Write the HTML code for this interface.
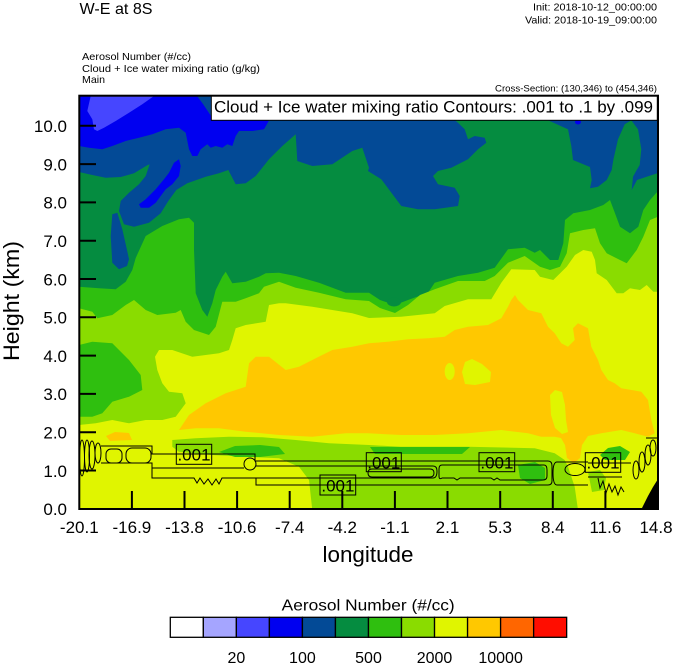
<!DOCTYPE html>
<html><head><meta charset="utf-8"><style>
html,body{margin:0;padding:0;background:#fff;}
svg{display:block;font-family:"Liberation Sans",Arial,sans-serif;}
</style></head><body>
<svg width="674" height="667" viewBox="0 0 674 667" xmlns="http://www.w3.org/2000/svg">
<defs><clipPath id="pc"><rect x="79.3" y="95.7" width="578.7" height="413.3"/></clipPath></defs>
<!-- header texts -->
<text x="79.5" y="14" font-size="16" textLength="73" lengthAdjust="spacingAndGlyphs">W-E at 8S</text>
<text x="533" y="10.5" font-size="10.5" textLength="124" lengthAdjust="spacingAndGlyphs">Init: 2018-10-12_00:00:00</text>
<text x="525" y="23.5" font-size="10.5" textLength="132" lengthAdjust="spacingAndGlyphs">Valid: 2018-10-19_09:00:00</text>
<text x="82" y="60" font-size="10.5" textLength="109" lengthAdjust="spacingAndGlyphs">Aerosol Number   (#/cc)</text>
<text x="82" y="72" font-size="10.5" textLength="178" lengthAdjust="spacingAndGlyphs">Cloud + Ice water mixing ratio   (g/kg)</text>
<text x="82" y="83" font-size="10.5" textLength="23" lengthAdjust="spacingAndGlyphs">Main</text>
<text x="495" y="91.5" font-size="9.5" textLength="162" lengthAdjust="spacingAndGlyphs">Cross-Section: (130,346) to (454,346)</text>

<g clip-path="url(#pc)">
<rect x="79" y="95" width="580" height="415" fill="#034a96"/>
<!-- blue top band -->
<path fill="#0000f0" d="M79,96 L197,96 L203,104 L209,113 L214,120.5 L269,120.5 L264,129.3 L252.3,131 L239,131 L235.7,136 L232.3,146 L227.3,144.3 L222.3,147.7 L215.7,146 L210.7,147.7 L207.3,144.3 L200.7,149.3 L197.3,156 L192.3,156 L189,149.3 L185.7,132.7 L179,127.7 L165.7,129.3 L152.3,134.3 L139,137.7 L125.7,141 L112.3,146 L102.3,149.3 L89,147.7 L79,146 Z"/>
<path fill="#4646ff" d="M90.7,96 L154,96 L142.3,104.3 L129,112.7 L115.7,121 L104,127.7 L97.3,131 L94,129.3 L92.3,119.3 L87.3,111 Z"/>
<ellipse cx="578" cy="122" rx="3" ry="2.5" fill="#0000f0"/>
<!-- green -->
<path fill="#058c40" d="M79,172 L92.3,175 L105.7,177.7 L120.7,177 L134,173.3 L147.3,165.3 L149.7,164.3 L145.7,176 L139,184.3 L129,192.7 L120.7,201 L119,211 L124,224.3 L134,226.7 L149,222.7 L160.7,213.3 L168.3,201 L176.3,190 L187.3,183.3 L205.7,176.7 L219,173.3 L228.3,170 L235.7,184.3 L245.7,183.3 L255.7,176 L269,159.3 L282.3,146 L295.7,134.3 L297.3,161 L312.3,166 L332.3,164.3 L352.3,151 L362.3,147.7 L369,167.7 L368,171 L381.3,179.3 L401.3,206 L418,209.3 L434.7,209.3 L458,206 L459.7,196 L454.7,187.7 L438,184.3 L433,176 L438,171 L451.3,167.7 L468,159.3 L478,149.3 L486.3,142.7 L484.7,137.7 L474.7,136 L468,139.3 L464.7,129.3 L458,122.7 L454.7,120 L454.7,96 L548,96 L548,120.3 L568,129.3 L571.3,146 L573,160 L590,167 L591.7,180 L590,188.3 L598,186.7 L606.7,180 L611.7,170 L613.3,160 L618,139.3 L624.7,124.3 L631.3,120.3 L638,129.3 L641.3,149.3 L639.7,165 L636.7,170 L633,176.7 L631.7,190 L637,180 L646.7,176.7 L658,173 L658,510 L79,510 Z"/>
<path fill="#034a96" d="M112.3,214.3 L117.3,212.7 L122.3,229.3 L127,250 L129,259.3 L127,266 L119,269.3 L112.3,262.7 L110.7,236 Z"/>
<path fill="#0000f0" d="M139,204.3 L145.7,199.3 L155.7,189.3 L164,179.3 L169,172.7 L174,162.7 L179,159.3 L180.7,166 L179,176 L172.3,184.3 L165.7,189.3 L160.7,196 L155.7,202.7 L149,207.7 L140.7,207.7 Z"/>
<!-- bright green -->
<path fill="#2fbf0f" d="M79,286.7 L99,288.3 L115.7,289.3 L125.7,281.7 L132.3,270 L135.7,258 L145.7,236 L162.3,226 L179,219.3 L189,217.7 L194,222.7 L194,250 L195.7,293.3 L202.3,310 L207.3,316.7 L212.3,303.3 L215.7,290 L222.3,276.7 L225.7,271.7 L232.3,283.3 L245.7,281.7 L259,276.7 L265.7,273.3 L279,272.7 L295.7,276 L319,282.7 L345.7,292.7 L369,292.7 L380,300 L395,305 L408,300 L428,292.7 L434.7,282.7 L458,276 L478,272.7 L494.7,267.7 L508,249.3 L524.7,247.7 L534.7,252.7 L540,250 L550,260 L558.3,260 L563.3,243.3 L565,220 L573.3,213.3 L590,210 L603.3,205 L610,200 L615,213.3 L620,226.7 L630,233.3 L638.3,226.7 L643.3,210 L650,200 L658,191 L658,510 L79,510 Z"/>
<ellipse cx="394" cy="302" rx="7" ry="4.5" fill="#058c40"/>
<!-- yellow-green -->
<path fill="#8adc00" d="M79,308.3 L92.3,311.7 L97.3,318.3 L112.3,315 L125.7,305 L134,300 L145.7,310 L157.3,315 L175.7,312.7 L180.7,310 L185.7,321.7 L194,330 L209,335 L215.7,326.7 L222.3,301.7 L235.7,301.7 L245.7,298.3 L259,293.3 L264,286.7 L279,281.7 L295.7,287.7 L319,292.7 L345.7,299.3 L369,301 L380,308 L395,313 L408,305 L420,295 L434.7,289.3 L458,281 L484.7,281 L494.7,276 L508,262.7 L524.7,256 L540,266.7 L550,270 L560,266.7 L566.7,253.3 L570,233.3 L583.3,230 L595,228.3 L600,243.3 L606.7,253.3 L620,260 L626.7,263.3 L636.7,250 L643.3,236.7 L650,220 L658,216.7 L658,510 L79,510 Z"/>
<path fill="#2fbf0f" d="M79,345 L92.3,341.7 L112.3,343.3 L129,360 L140.7,375 L142.3,390 L129,396.7 L112.3,401.7 L102.3,413.3 L92.3,416.7 L79,416.7 Z"/>
<!-- yellow -->
<path fill="#e0f500" d="M79,425 L95.7,423.3 L112.3,420 L129,423.3 L145.7,420 L162.3,420 L175.7,416.7 L185.7,403.3 L182.3,393.3 L169,391.7 L162.3,383.3 L157.3,370 L155,356.7 L159,350 L172.3,350 L192.3,356.7 L219,353.3 L229,350 L232.3,340 L235.7,328.3 L245.7,325 L265.7,321.7 L269,305 L279,303.3 L285.7,303.3 L312.3,306.7 L332.3,310 L352.3,313.3 L369,318 L401,316.7 L434.7,313.3 L444.7,306 L468,299.3 L491.3,299.3 L501.3,282.7 L511.3,269.3 L534.7,270 L540,276.7 L553.3,280 L566.7,266.7 L575,255 L583.3,250 L591.7,251.7 L595,260 L596.7,273.3 L606.7,280 L616.7,293.3 L623.3,293.3 L630,288.3 L640,290 L646.7,285 L653.3,291.7 L658,291.7 L658,510 L79,510 Z"/>
<!-- lower yellow-green band -->
<path fill="#8adc00" d="M172.3,440 L195.7,438.3 L229,436.7 L262.3,437.3 L295.7,440 L329,443.3 L369,445 L401,446.7 L468,446.7 L534.7,448.3 L554.7,453.3 L564.7,460 L568,466.7 L574.7,486.7 L578,510 L312.3,510 L309,480 L299,466.7 L279,458.3 L245.7,456.7 L212.3,455 L179,451.7 L172.3,446.7 Z"/>
<path fill="#2fbf0f" d="M219,452 L235,446 L260,445 L279,447 L285,454 L260,457 L235,457 Z"/>
<path fill="#2fbf0f" d="M370,447 L470,447 L462,454 L375,454 Z"/>
<path fill="#2fbf0f" d="M518,465 L535,462 L545,468 L545,480 L530,484 L520,478 Z"/>
<path fill="#2fbf0f" d="M600,455 L608,448 L620,446 L630,452 L625,460 L605,460 Z"/>
<path fill="#8adc00" d="M588,472 L600,470 L606,478 L604,490 L592,492 Z"/>
<!-- orange -->
<path fill="#ffc800" d="M179,430 L189,415 L205.7,403.3 L225.7,393.3 L245.7,386.7 L249,363.3 L255.7,356.7 L269,356.7 L285.7,370 L299,366.7 L315.7,358.3 L332.3,350 L352.3,346.7 L369,343.3 L388,341.7 L408,339.3 L428,338.3 L444.7,336.7 L454.7,330 L468,326.7 L488,325 L501.3,318.3 L508,306.7 L511.3,300 L515,295 L518,300 L528,310 L541.3,313.3 L548,326.7 L554.7,333.3 L561.3,343.3 L568,346.7 L574.7,340 L573,328.3 L578,323.3 L588,328.3 L591.3,346.7 L598,360 L601.3,370 L608,380 L614.7,383.3 L621.3,388.3 L641.3,391.7 L648,400 L651.3,420 L654.7,433.3 L648,436.7 L634.7,433.3 L621.3,430 L601.3,433.3 L588,436 L582,445 L580,458 L574,463 L567,458 L565,445 L561,438 L554.7,436.7 L541.3,436.7 L528,433.3 L501.3,430 L468,433.3 L434.7,435 L401.3,435 L368,433.3 L345.7,433.3 L312.3,436.7 L279,435 L245.7,431.7 L219,428.3 L195.7,428.3 Z"/>
<path fill="#ffc800" d="M106,436 L115,432 L129,433 L132,440 L110,441 Z"/>
<ellipse cx="449.7" cy="371.5" rx="5" ry="8.5" fill="#e0f500"/>
<path fill="#e0f500" d="M462,372 L465,362 L472,359 L482,364 L491,372 L490,382 L475,385 L465,384 Z"/>
<path fill="#e0f500" d="M550,395 L555,390 L562,392 L565,405 L566,420 L568,432 L562,434 L555,428 L551,415 Z"/>
<!-- black corner -->
<path fill="#000" d="M641,510 L648,496 L653,487 L658,479 L658,510 Z"/>
<!-- contour lines -->
<g fill="none" stroke="#000" stroke-width="1">
<ellipse cx="82" cy="458" rx="2.5" ry="18"/>
<ellipse cx="87" cy="456" rx="2.5" ry="16"/>
<ellipse cx="92" cy="455" rx="3" ry="14"/>
<ellipse cx="98" cy="453" rx="3" ry="10"/>
<path d="M101,446 H152 V454 H255 V461 H548 Q552,461 552,466 V481 Q552,485 548,485 H256 V478 H222 l-3,6 l-3,-5 l-4,6 l-4,-6 l-4,5 l-4,-6 l-3,5 l-3,-5 H152 V463 H101"/>
<rect x="106" y="449" width="16" height="14" rx="5"/>
<rect x="126" y="448" width="25" height="15" rx="6"/>
<path d="M152,468 H244"/>
<circle cx="250" cy="464" r="6"/>
<path d="M256,466 H433 Q437,466 437,471 Q437,478 433,478 H256"/>
<path d="M372,469 H430 Q434,469 434,473 Q434,477 430,477 H372 Q368,477 368,473 Q368,469 372,469 Z"/>
<path d="M442,465 H544 Q547,465 547,470 V476 Q547,480 543,480 H500 l-3,-2 l-3,2 l-3,-2 H460 l-3,2 l-3,-2 H442 Q439,480 439,476 V469 Q439,465 442,465 Z"/>
<path d="M588,462 H557 Q553,462 553,473 Q553,485 557,485 H588"/>
<ellipse cx="575" cy="469.5" rx="10" ry="6"/>
<path d="M588,463 H631 M588,477 H622"/>
<path d="M598,478 l2,10 l3,-7 l3,12 l3,-9 l3,8 l3,-6 l3,9 l3,-8 l3,5"/>
<ellipse cx="636" cy="470" rx="3" ry="9"/>
<ellipse cx="642" cy="462" rx="3" ry="10"/>
<ellipse cx="648" cy="455" rx="3" ry="10"/>
<ellipse cx="653" cy="448" rx="3" ry="8"/>
<path d="M646,438 H658"/>
<rect x="176.3" y="444.3" width="35.4" height="20"/>
<rect x="320" y="475" width="35.7" height="20"/>
<rect x="366.3" y="452.7" width="35" height="19"/>
<rect x="479" y="452.7" width="35.7" height="19"/>
<rect x="585.3" y="452.7" width="35.4" height="19.6"/>
</g>
<g font-size="17" text-anchor="middle">
<text x="194" y="460.5">.001</text>
<text x="337.9" y="491.3">.001</text>
<text x="383.8" y="468.5">.001</text>
<text x="496.9" y="468.5">.001</text>
<text x="603" y="468.5">.001</text>
</g>
</g>

<!-- legend box -->
<rect x="211.3" y="95.7" width="446" height="24.6" fill="#fff" stroke="#000" stroke-width="1"/>
<text x="214" y="112.7" font-size="17" textLength="439" lengthAdjust="spacingAndGlyphs">Cloud + Ice water mixing ratio Contours: .001 to .1 by .099</text>

<!-- frame -->
<rect x="79.3" y="95.7" width="578.7" height="413.3" fill="none" stroke="#000" stroke-width="2"/>
<!-- ticks -->
<g stroke="#000" stroke-width="2">
<path d="M131.9,491 V509 M184.5,491 V509 M237.1,491 V509 M289.7,491 V509 M342.3,491 V509 M394.9,491 V509 M447.5,491 V509 M500.2,491 V509 M552.8,491 V509 M605.4,491 V509"/>
<path d="M79,470.5 H96 M79,432.2 H96 M79,393.9 H96 M79,355.6 H96 M79,317.3 H96 M79,279 H96 M79,240.7 H96 M79,202.4 H96 M79,164.1 H96 M79,125.8 H96"/>
</g>
<g font-size="17" text-anchor="middle">
<text x="79.3" y="533">-20.1</text>
<text x="131.9" y="533">-16.9</text>
<text x="184.5" y="533">-13.8</text>
<text x="237.1" y="533">-10.6</text>
<text x="289.7" y="533">-7.4</text>
<text x="342.3" y="533">-4.2</text>
<text x="394.9" y="533">-1.1</text>
<text x="447.5" y="533">2.1</text>
<text x="500.2" y="533">5.3</text>
<text x="552.8" y="533">8.4</text>
<text x="605.4" y="533">11.6</text>
<text x="656" y="533">14.8</text>
</g>
<g font-size="17" text-anchor="end">
<text x="67" y="515">0.0</text>
<text x="67" y="476.8">1.0</text>
<text x="67" y="438.5">2.0</text>
<text x="67" y="400.2">3.0</text>
<text x="67" y="361.9">4.0</text>
<text x="67" y="323.6">5.0</text>
<text x="67" y="285.3">6.0</text>
<text x="67" y="247">7.0</text>
<text x="67" y="208.7">8.0</text>
<text x="67" y="170.4">9.0</text>
<text x="67" y="132.1">10.0</text>
</g>
<text x="322.5" y="562" font-size="22" textLength="91" lengthAdjust="spacingAndGlyphs">longitude</text>
<text transform="translate(19,361) rotate(-90)" x="0" y="0" font-size="22" textLength="120" lengthAdjust="spacingAndGlyphs">Height (km)</text>

<!-- colorbar -->
<text x="281.7" y="610.7" font-size="16" textLength="173" lengthAdjust="spacingAndGlyphs">Aerosol Number  (#/cc)</text>
<g stroke="#000" stroke-width="1.3">
<rect x="170.3" y="617.3" width="33.03" height="20" fill="#ffffff"/>
<rect x="203.33" y="617.3" width="33.03" height="20" fill="#a5a5ff"/>
<rect x="236.36" y="617.3" width="33.03" height="20" fill="#4646ff"/>
<rect x="269.39" y="617.3" width="33.03" height="20" fill="#0000f0"/>
<rect x="302.42" y="617.3" width="33.03" height="20" fill="#034a96"/>
<rect x="335.45" y="617.3" width="33.03" height="20" fill="#058c40"/>
<rect x="368.48" y="617.3" width="33.03" height="20" fill="#2fbf0f"/>
<rect x="401.51" y="617.3" width="33.03" height="20" fill="#8adc00"/>
<rect x="434.54" y="617.3" width="33.03" height="20" fill="#e0f500"/>
<rect x="467.57" y="617.3" width="33.03" height="20" fill="#ffc800"/>
<rect x="500.6" y="617.3" width="33.03" height="20" fill="#ff6600"/>
<rect x="533.63" y="617.3" width="33.03" height="20" fill="#ff0d00"/>
</g>
<g font-size="16" text-anchor="middle">
<text x="236.4" y="663">20</text>
<text x="302.4" y="663">100</text>
<text x="368.5" y="663">500</text>
<text x="434.5" y="663">2000</text>
<text x="500.6" y="663">10000</text>
</g>
</svg>
</body></html>
